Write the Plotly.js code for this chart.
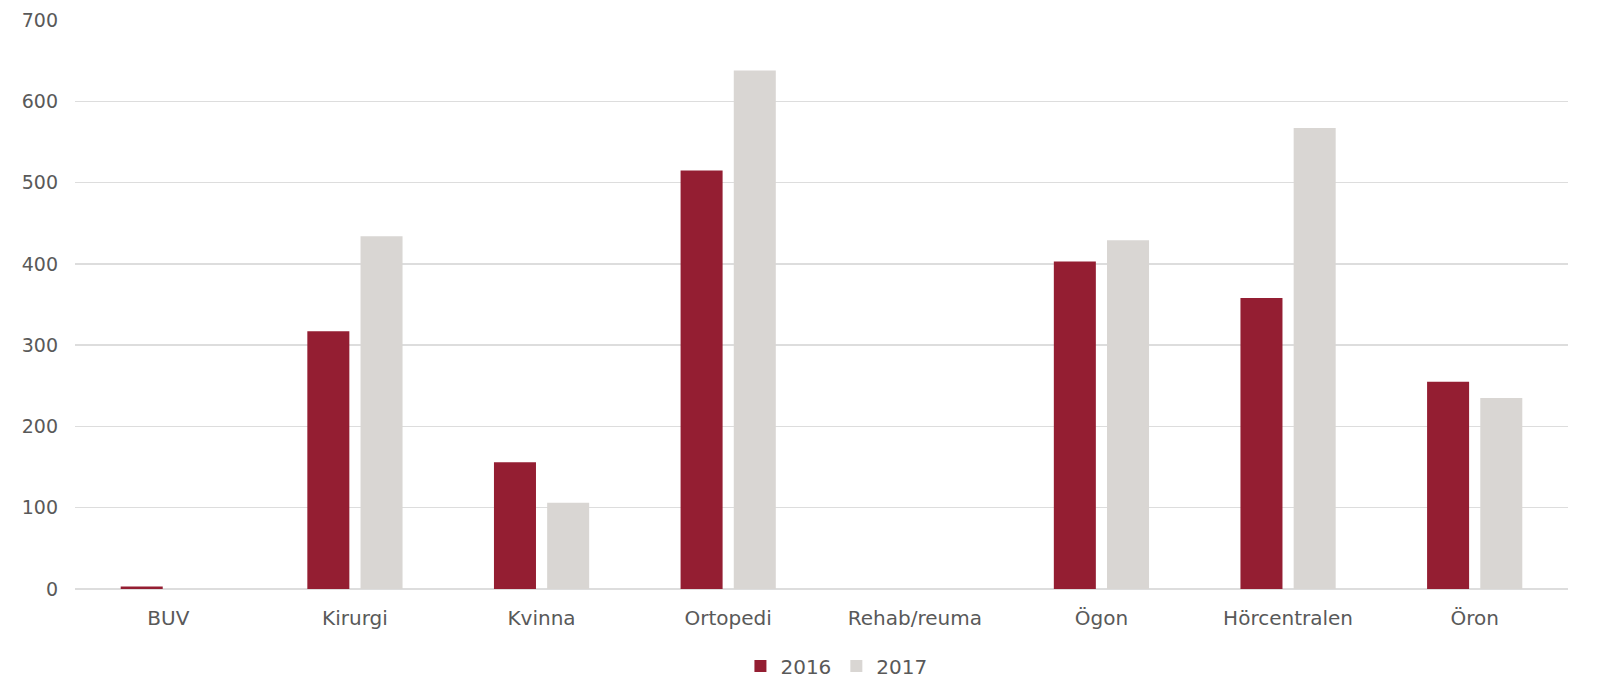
<!DOCTYPE html>
<html>
<head>
<meta charset="utf-8">
<script src="https://cdn.plot.ly/plotly-3.0.1.min.js"></script>
<style>html,body{margin:0;padding:0;background:#fff;}#chart{width:1610px;height:696px;}</style>
</head>
<body>
<div id="chart"></div>
<script>
const categories = ["BUV", "Kirurgi", "Kvinna", "Ortopedi", "Rehab/reuma", "Ögon", "Hörcentralen", "Öron"];
const values2016 = [3, 317, 156, 515, 0, 403, 358, 255];
const values2017 = [0, 434, 106, 638, 0, 429, 567, 235];
const yTicks = [0, 100, 200, 300, 400, 500, 600, 700];

const fontFam = "DejaVu Sans, Verdana, sans-serif";
const data = [
  {type: "bar", name: "2016", x: categories, y: values2016, marker: {color: "#941E32"}},
  {type: "bar", name: "2017", x: categories, y: values2017, marker: {color: "#D9D6D3"}}
];
const layout = {
  width: 1610, height: 696,
  margin: {l: 75, r: 42, t: 20, b: 107},
  paper_bgcolor: "#fff", plot_bgcolor: "#fff",
  barmode: "group", bargap: 0.43, bargroupgap: 0.21,
  font: {family: fontFam, size: 19, color: "#595959"},
  xaxis: {showgrid: false, showline: false, zeroline: false, ticks: "", ticklabelstandoff: 15, automargin: false,
          tickfont: {size: 20, color: "#595959"}},
  yaxis: {range: [0, 700], tickvals: yTicks, ticktext: yTicks.map(String), showgrid: true, gridcolor: "#DDDDDD", gridwidth: 1.5,
          zeroline: true, zerolinecolor: "#DDDDDD", zerolinewidth: 1.5, showline: false, ticks: "", ticklabelstandoff: 16, automargin: false,
          tickfont: {size: 19, color: "#595959"}},
  showlegend: true,
  legend: {orientation: "h", xref: "paper", x: 0.51, xanchor: "center", yref: "container", y: 0.043, yanchor: "middle",
           font: {size: 20, color: "#595959"}, itemwidth: 30}
};
Plotly.newPlot("chart", data, layout, {displayModeBar: false, staticPlot: true});
</script>
</body>
</html>
